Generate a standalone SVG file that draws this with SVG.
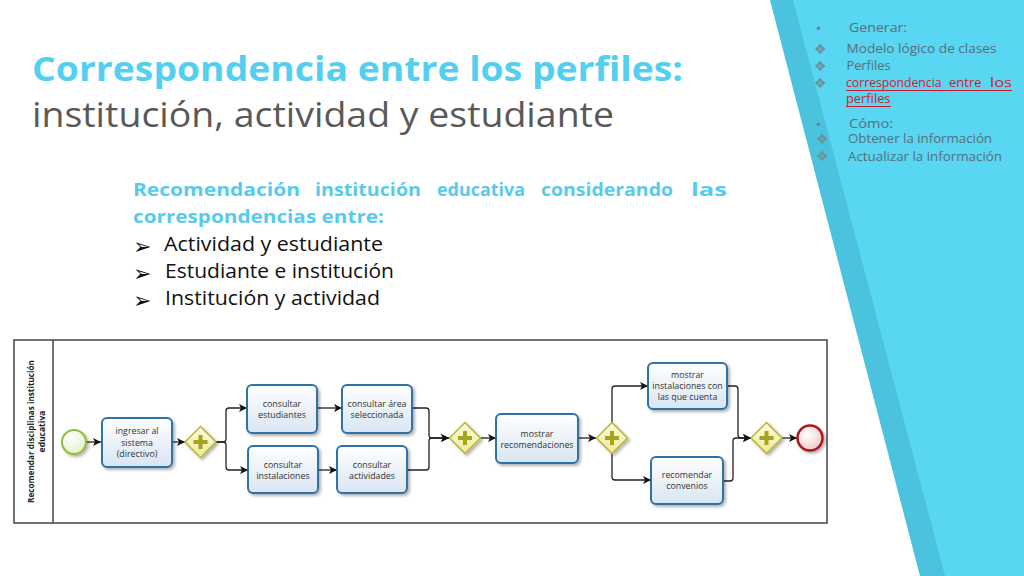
<svg xmlns="http://www.w3.org/2000/svg" width="1024" height="576" viewBox="0 0 1024 576">
<defs>
<style>
.title{font-family:"Open Sans","Noto Sans",sans-serif;font-size:34px}
.t1{font-weight:bold;fill:#55cff0}
.t2{fill:#595959}
.sub{font-family:"Open Sans","Noto Sans",sans-serif;font-size:18.5px;font-weight:bold;fill:#58cbeb}
.li{font-family:"Open Sans","Noto Sans",sans-serif;font-size:20.5px;fill:#111}
.arrowb{font-family:"DejaVu Sans",sans-serif;font-size:22px;fill:#111}
.side{font-family:"Open Sans","Noto Sans",sans-serif;font-size:12.5px;fill:#566f7b}
.sideh{font-family:"Open Sans","Noto Sans",sans-serif;font-size:13.5px;fill:#566f7b}
.red{fill:#cc1f2d}
.dia{font-family:"DejaVu Sans",sans-serif;font-size:14px;fill:#6f8f99}
.dot{font-family:"DejaVu Sans",sans-serif;font-size:12px;fill:#6a8590}
.task rect.b{fill:url(#tg);stroke:#2f72a6;stroke-width:2}
.task text{font-family:"Open Sans","Noto Sans",sans-serif;font-size:8.8px;fill:#333;text-anchor:middle}
.gw path.d{fill:url(#gg);stroke:#b7b532;stroke-width:1.5}
.gw path.p{stroke:#a6a41e;stroke-width:4;fill:none}
.conn path{fill:none;stroke:#222;stroke-width:1.3;marker-end:url(#ah)}
.lane{font-family:"Open Sans","Noto Sans",sans-serif;font-size:8.5px;font-weight:bold;fill:#222;text-anchor:middle}
</style>
<linearGradient id="tg" x1="0" y1="0" x2="0" y2="1">
<stop offset="0" stop-color="#ffffff"/>
<stop offset="1" stop-color="#d8e5f2"/>
</linearGradient>
<linearGradient id="gg" x1="0" y1="0" x2="0" y2="1">
<stop offset="0" stop-color="#fdfce0"/>
<stop offset="1" stop-color="#ece99a"/>
</linearGradient>
<radialGradient id="sg" cx="0.4" cy="0.35" r="0.7">
<stop offset="0" stop-color="#ffffff"/>
<stop offset="1" stop-color="#e3f0c8"/>
</radialGradient>
<radialGradient id="eg" cx="0.4" cy="0.35" r="0.7">
<stop offset="0" stop-color="#ffffff"/>
<stop offset="1" stop-color="#efc9c9"/>
</radialGradient>
<filter id="sh" x="-20%" y="-20%" width="150%" height="150%">
<feDropShadow dx="2" dy="2" stdDeviation="1.5" flood-color="#000" flood-opacity="0.3"/>
</filter>
<marker id="ah" viewBox="0 0 10 10" refX="10" refY="5" markerWidth="9" markerHeight="8" markerUnits="userSpaceOnUse" orient="auto">
<path d="M0,0 L10,5 L0,10 L2.5,5 Z" fill="#111"/>
</marker>
</defs>

<rect width="1024" height="576" fill="#ffffff"/>

<!-- side decoration -->
<polygon points="770,0 1024,0 1024,576 920,576" fill="#4bc2de"/>
<polygon points="793,0 1024,0 1024,576 945,576" fill="#58d6f2"/>

<!-- side text -->
<g id="side-list">
<text class="dot" x="815" y="33">•</text>
<text class="sideh" x="849" y="32" textLength="58" lengthAdjust="spacingAndGlyphs">Generar:</text>
<text class="dia" x="814" y="53.5">❖</text>
<text class="side" x="846.5" y="53" textLength="150" lengthAdjust="spacingAndGlyphs">Modelo lógico de clases</text>
<text class="dia" x="814" y="70.5">❖</text>
<text class="side" x="846.5" y="70" textLength="44" lengthAdjust="spacingAndGlyphs">Perfiles</text>
<text class="dia red" x="814" y="87.5">❖</text>
<text class="side red" x="846" y="87" textLength="95.5" lengthAdjust="spacingAndGlyphs">correspondencia</text>
<text class="side red" x="949" y="87" textLength="32.5" lengthAdjust="spacingAndGlyphs">entre</text>
<text class="side red" x="990" y="87" textLength="22" lengthAdjust="spacingAndGlyphs">los</text>
<line x1="846" y1="90.5" x2="1012" y2="90.5" stroke="#cc1f2d" stroke-width="1"/>
<text class="side red" x="846" y="102.5" textLength="44.5" lengthAdjust="spacingAndGlyphs">perfiles</text>
<line x1="846" y1="106.5" x2="891" y2="106.5" stroke="#cc1f2d" stroke-width="1"/>
<text class="dot" x="815" y="129">•</text>
<text class="sideh" x="849" y="128" textLength="44" lengthAdjust="spacingAndGlyphs">Cómo:</text>
<text class="dia" x="816" y="143.5">❖</text>
<text class="side" x="848" y="143" textLength="144" lengthAdjust="spacingAndGlyphs">Obtener la información</text>
<text class="dia" x="816" y="161">❖</text>
<text class="side" x="848" y="160.5" textLength="154" lengthAdjust="spacingAndGlyphs">Actualizar la información</text>
</g>

<!-- title -->
<g id="title">
<text class="title t1" x="32" y="81" textLength="651" lengthAdjust="spacingAndGlyphs">Correspondencia entre los perfiles:</text>
<text class="title t2" x="32" y="127" textLength="582" lengthAdjust="spacingAndGlyphs">institución, actividad y estudiante</text>
</g>

<!-- subheading and bullets -->
<g id="subheading">
<text class="sub" x="133" y="196" textLength="167" lengthAdjust="spacingAndGlyphs">Recomendación</text>
<text class="sub" x="315" y="196" textLength="106" lengthAdjust="spacingAndGlyphs">institución</text>
<text class="sub" x="437" y="196" textLength="88" lengthAdjust="spacingAndGlyphs">educativa</text>
<text class="sub" x="541" y="196" textLength="132" lengthAdjust="spacingAndGlyphs">considerando</text>
<text class="sub" x="691" y="196" textLength="36" lengthAdjust="spacingAndGlyphs">las</text>
<text class="sub" x="133" y="223" textLength="251" lengthAdjust="spacingAndGlyphs">correspondencias entre:</text>
<text class="arrowb" x="133" y="254">➢</text>
<text class="li" x="164" y="251" textLength="219" lengthAdjust="spacingAndGlyphs">Actividad y estudiante</text>
<text class="arrowb" x="133" y="281">➢</text>
<text class="li" x="165" y="278" textLength="229" lengthAdjust="spacingAndGlyphs">Estudiante e institución</text>
<text class="arrowb" x="133" y="307.5">➢</text>
<text class="li" x="165" y="304.5" textLength="215" lengthAdjust="spacingAndGlyphs">Institución y actividad</text>
</g>

<!-- BPMN pool -->
<g id="pool">
<rect x="14" y="340" width="813" height="183" fill="#ffffff" stroke="#444" stroke-width="1.5"/>
<line x1="53" y1="340" x2="53" y2="523" stroke="#444" stroke-width="1.5"/>
<g transform="translate(33,431.5) rotate(-90)">
<text class="lane" x="0" y="1" textLength="143" lengthAdjust="spacingAndGlyphs">Recomendar disciplinas institución</text>
<text class="lane" x="0" y="12">educativa</text>
</g>
</g>

<!-- connectors -->
<g id="connectors" class="conn">
<path d="M86,442 H101"/>
<path d="M172,442 H185"/>
<path d="M216,442 H223 Q226,442 226,439 V411 Q226,408 229,408 H247"/>
<path d="M216,442 H223 Q226,442 226,445 V467 Q226,470 229,470 H248"/>
<path d="M317,408 H342"/>
<path d="M318,470 H337"/>
<path d="M412,408 H426 Q429,408 429,411 V435 Q429,438 432,438 H449"/>
<path d="M407,470 H426 Q429,470 429,467 V441 Q429,438 432,438 H449"/>
<path d="M481,438 H496"/>
<path d="M578,438 H596"/>
<path d="M612,422.5 V389 Q612,386 615,386 H648"/>
<path d="M612,453.5 V477 Q612,480 615,480 H651"/>
<path d="M727,386 H735 Q738,386 738,389 V435 Q738,438 741,438 H751"/>
<path d="M723,481 H730 Q733,481 733,478 V441 Q733,438 736,438 H751"/>
<path d="M782,438 H797"/>
</g>

<!-- events -->
<g id="start">
<circle cx="74" cy="442" r="12" fill="url(#sg)" stroke="#8cbf3c" stroke-width="2" filter="url(#sh)"/>
</g>
<g id="end">
<circle cx="810" cy="438" r="12.5" fill="url(#eg)" stroke="#b0151c" stroke-width="2.5" filter="url(#sh)"/>
</g>

<!-- gateways -->
<g id="gw1" class="gw" transform="translate(200.5,442)">
<path class="d" d="M0,-15.5 L15.5,0 L0,15.5 L-15.5,0 Z" filter="url(#sh)"/>
<path class="p" d="M-7,0 H7 M0,-7 V7"/>
</g>
<g id="gw2" class="gw" transform="translate(465,438)">
<path class="d" d="M0,-15.5 L15.5,0 L0,15.5 L-15.5,0 Z" filter="url(#sh)"/>
<path class="p" d="M-7,0 H7 M0,-7 V7"/>
</g>
<g id="gw3" class="gw" transform="translate(612,438)">
<path class="d" d="M0,-15.5 L15.5,0 L0,15.5 L-15.5,0 Z" filter="url(#sh)"/>
<path class="p" d="M-7,0 H7 M0,-7 V7"/>
</g>
<g id="gw4" class="gw" transform="translate(766.5,438)">
<path class="d" d="M0,-15.5 L15.5,0 L0,15.5 L-15.5,0 Z" filter="url(#sh)"/>
<path class="p" d="M-7,0 H7 M0,-7 V7"/>
</g>

<!-- tasks -->
<g id="task-ingresar" class="task">
<rect class="b" x="102" y="418" width="70" height="49" rx="5" filter="url(#sh)"/>
<text x="137" y="434">ingresar al</text>
<text x="137" y="445.5">sistema</text>
<text x="137" y="457">(directivo)</text>
</g>
<g id="task-estudiantes" class="task">
<rect class="b" x="247" y="385" width="70" height="48" rx="5" filter="url(#sh)"/>
<text x="282" y="407">consultar</text>
<text x="282" y="418">estudiantes</text>
</g>
<g id="task-instalaciones" class="task">
<rect class="b" x="248" y="446" width="70" height="47" rx="5" filter="url(#sh)"/>
<text x="283" y="467.5">consultar</text>
<text x="283" y="478.5">instalaciones</text>
</g>
<g id="task-area" class="task">
<rect class="b" x="342" y="385" width="70" height="48" rx="5" filter="url(#sh)"/>
<text x="377" y="407">consultar área</text>
<text x="377" y="418">seleccionada</text>
</g>
<g id="task-actividades" class="task">
<rect class="b" x="337" y="446" width="70" height="47" rx="5" filter="url(#sh)"/>
<text x="372" y="467.5">consultar</text>
<text x="372" y="478.5">actividades</text>
</g>
<g id="task-recomendaciones" class="task">
<rect class="b" x="496" y="414" width="82" height="49" rx="5" filter="url(#sh)"/>
<text x="537" y="436.5">mostrar</text>
<text x="537" y="447.5">recomendaciones</text>
</g>
<g id="task-mostrar-inst" class="task">
<rect class="b" x="648" y="363" width="79" height="46" rx="5" filter="url(#sh)"/>
<text x="687.5" y="377.5">mostrar</text>
<text x="687.5" y="389">instalaciones con</text>
<text x="687.5" y="400">las que cuenta</text>
</g>
<g id="task-convenios" class="task">
<rect class="b" x="651" y="457" width="72" height="47" rx="5" filter="url(#sh)"/>
<text x="687" y="478">recomendar</text>
<text x="687" y="489">convenios</text>
</g>
</svg>
